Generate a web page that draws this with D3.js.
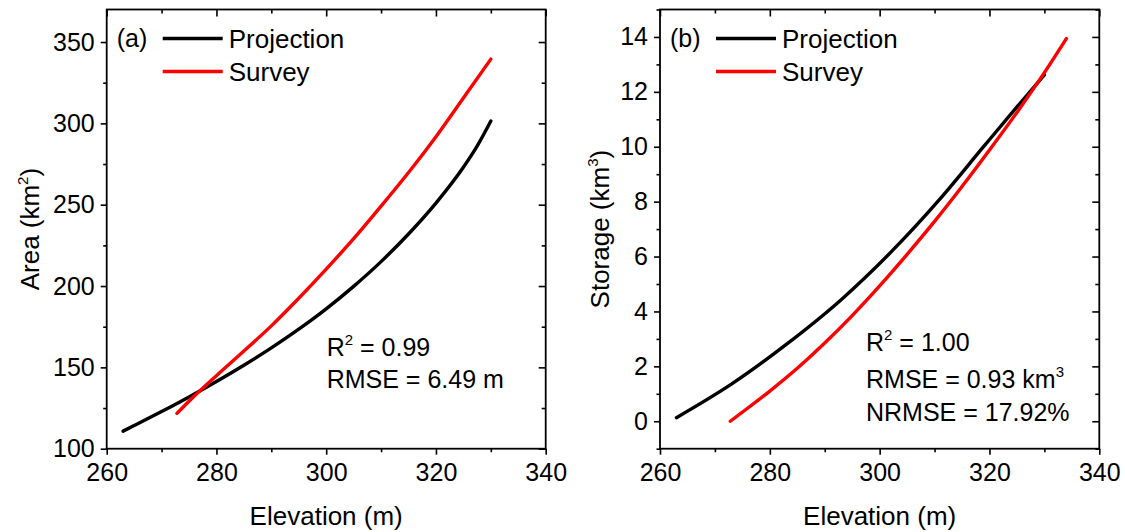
<!DOCTYPE html>
<html>
<head>
<meta charset="utf-8">
<script src="https://cdn.jsdelivr.net/npm/d3@7"></script>
<style>
  html, body { margin: 0; padding: 0; background: #fff; }
  svg { display: block; }
  text { font-family: "Liberation Sans", Arial, sans-serif; fill: #000; }
</style>
</head>
<body>
<svg id="chart" width="1125" height="532"></svg>
<script>
// ---- Panel (a): elevation–area curves ----
const areaProjElev = [263, 265, 270, 275, 280, 285, 290, 295, 300, 305, 310, 315, 320, 325, 327.5, 330];
const areaProjVal  = [110.8, 114.2, 122.8, 131.8, 141.3, 151.3, 162, 173.5, 186, 199.8, 215, 232, 251, 273, 286, 301.5];
const areaSurvElev = [272.8, 275, 280, 285, 290, 295, 300, 305, 310, 315, 320, 325, 330];
const areaSurvVal  = [121.7, 129.2, 144.9, 160, 175.5, 192.5, 210.4, 229.1, 249.1, 269.8, 291.8, 315.6, 339.5];

// ---- Panel (b): elevation–storage curves ----
const storProjElev = [263, 273, 283, 293, 302, 311, 319, 325, 330];
const storProjVal  = [0.13, 1.35, 2.80, 4.43, 6.15, 8.10, 10.02, 11.45, 12.62];
const storSurvElev = [272.8, 275, 280, 285, 290, 295, 300, 305, 310, 315, 320, 325, 330, 334];
const storSurvVal  = [0, 0.33, 1.1, 1.93, 2.85, 3.85, 4.93, 6.08, 7.28, 8.55, 9.88, 11.25, 12.7, 13.94];

// ---- Axis ticks ----
const elevTicks = [260, 280, 300, 320, 340];
const elevMinor = [270, 290, 310, 330];
const areaTicks = [100, 150, 200, 250, 300, 350];
const areaMinor = [125, 175, 225, 275, 325];
const storTicks = [0, 2, 4, 6, 8, 10, 12, 14];
const storMinor = [-1, 1, 3, 5, 7, 9, 11, 13, 15];

const seriesNames = ["Projection", "Survey"];
const seriesColors = ["#000000", "#ff0000"];

const svg = d3.select("#chart");

function pairs(xs, ys) { return xs.map((x, i) => [x, ys[i]]); }

// writes text parts into a <text>, raising superscript parts
function writeParts(t, parts) {
  let raised = false;
  parts.forEach(p => {
    if (p.sup) {
      t.append("tspan").attr("font-size", 15).attr("dy", -11).text(p.sup);
      raised = true;
    } else {
      const s = t.append("tspan").text(p.t);
      if (raised) { s.attr("dy", 11); raised = false; }
    }
  });
}

function drawPanel(cfg) {
  const g = svg.append("g").attr("transform", `translate(${cfg.left},${cfg.top})`);
  const w = cfg.width, h = cfg.height;
  const x = d3.scaleLinear().domain([260, 340]).range([0, w]);
  const y = d3.scaleLinear().domain(cfg.yDomain).range([h, 0]);

  // bottom axis: outward ticks with labels
  const bottom = g.append("g").attr("transform", `translate(0,${h})`);
  bottom.call(d3.axisBottom(x).tickValues(elevTicks).tickSize(6).tickPadding(9).tickFormat(d3.format("d")));
  bottom.append("g").call(d3.axisBottom(x).tickValues(elevMinor).tickSize(3.5).tickFormat(""));
  // top mirror axis: inward ticks
  const top = g.append("g");
  top.call(d3.axisBottom(x).tickValues(elevTicks).tickSize(7).tickFormat(""));
  top.append("g").call(d3.axisBottom(x).tickValues(elevMinor).tickSize(4).tickFormat(""));
  // left axis: outward ticks with labels
  const left = g.append("g");
  left.call(d3.axisLeft(y).tickValues(cfg.yTicks).tickSize(6).tickPadding(6).tickFormat(d3.format("d")));
  left.append("g").call(d3.axisLeft(y).tickValues(cfg.yMinor).tickSize(3.5).tickFormat(""));
  // right mirror axis: inward ticks
  const right = g.append("g").attr("transform", `translate(${w},0)`);
  right.call(d3.axisLeft(y).tickValues(cfg.yTicks).tickSize(7).tickFormat(""));
  right.append("g").call(d3.axisLeft(y).tickValues(cfg.yMinor).tickSize(4).tickFormat(""));

  g.selectAll(".domain").remove();
  g.selectAll(".tick line").attr("stroke", "#000").attr("stroke-width", 1.6);
  g.selectAll(".tick text").attr("font-size", 25).attr("fill", "#000")
    .style("font-family", '"Liberation Sans", Arial, sans-serif');

  // frame
  g.append("rect").attr("x", 0).attr("y", 0).attr("width", w).attr("height", h)
    .attr("fill", "none").attr("stroke", "#000").attr("stroke-width", 1.8);

  // curves
  const line = d3.line().x(d => x(d[0])).y(d => y(d[1])).curve(d3.curveMonotoneX);
  cfg.series.forEach((s, i) => {
    g.append("path").datum(s).attr("d", line)
      .attr("fill", "none").attr("stroke", seriesColors[i])
      .attr("stroke-width", 3.4).attr("stroke-linecap", "round").attr("stroke-linejoin", "round");
  });

  // panel letter and legend
  g.append("text").attr("x", 10).attr("y", 37).attr("font-size", 25).text(cfg.letter);
  seriesNames.forEach((name, i) => {
    const ly = 29 + i * 33;
    g.append("line").attr("x1", 56).attr("x2", 116).attr("y1", ly).attr("y2", ly)
      .attr("stroke", seriesColors[i]).attr("stroke-width", 3.4);
    g.append("text").attr("x", 122).attr("y", ly + 9).attr("font-size", 26).text(name);
  });

  // statistics block
  cfg.stats.forEach(st => {
    const t = g.append("text").attr("x", cfg.statX).attr("y", st.y).attr("font-size", 25);
    writeParts(t, st.parts);
  });

  // x-axis title
  g.append("text").attr("x", w / 2).attr("y", h + 76).attr("text-anchor", "middle")
    .attr("font-size", 26).text("Elevation (m)");

  // y-axis title (rotated)
  const yt = g.append("text")
    .attr("transform", `translate(${cfg.yTitleX},${h / 2}) rotate(-90)`)
    .attr("text-anchor", "middle").attr("font-size", 26);
  writeParts(yt, cfg.yTitle);
}

drawPanel({
  left: 106.7, top: 9.5, width: 439, height: 439.2,
  yDomain: [100, 370], yTicks: areaTicks, yMinor: areaMinor,
  letter: "(a)",
  series: [pairs(areaProjElev, areaProjVal), pairs(areaSurvElev, areaSurvVal)],
  statX: 220,
  stats: [
    { y: 346, parts: [{ t: "R" }, { sup: "2" }, { t: " = 0.99" }] },
    { y: 378, parts: [{ t: "RMSE = 6.49 m" }] }
  ],
  yTitleX: -68,
  yTitle: [{ t: "Area (km" }, { sup: "2" }, { t: ")" }]
});

drawPanel({
  left: 660, top: 9.5, width: 439.3, height: 439.2,
  yDomain: [-1, 15], yTicks: storTicks, yMinor: storMinor,
  letter: "(b)",
  series: [pairs(storProjElev, storProjVal), pairs(storSurvElev, storSurvVal)],
  statX: 206,
  stats: [
    { y: 341, parts: [{ t: "R" }, { sup: "2" }, { t: " = 1.00" }] },
    { y: 378, parts: [{ t: "RMSE = 0.93 km" }, { sup: "3" }] },
    { y: 411, parts: [{ t: "NRMSE = 17.92%" }] }
  ],
  yTitleX: -51,
  yTitle: [{ t: "Storage (km" }, { sup: "3" }, { t: ")" }]
});
</script>
</body>
</html>
